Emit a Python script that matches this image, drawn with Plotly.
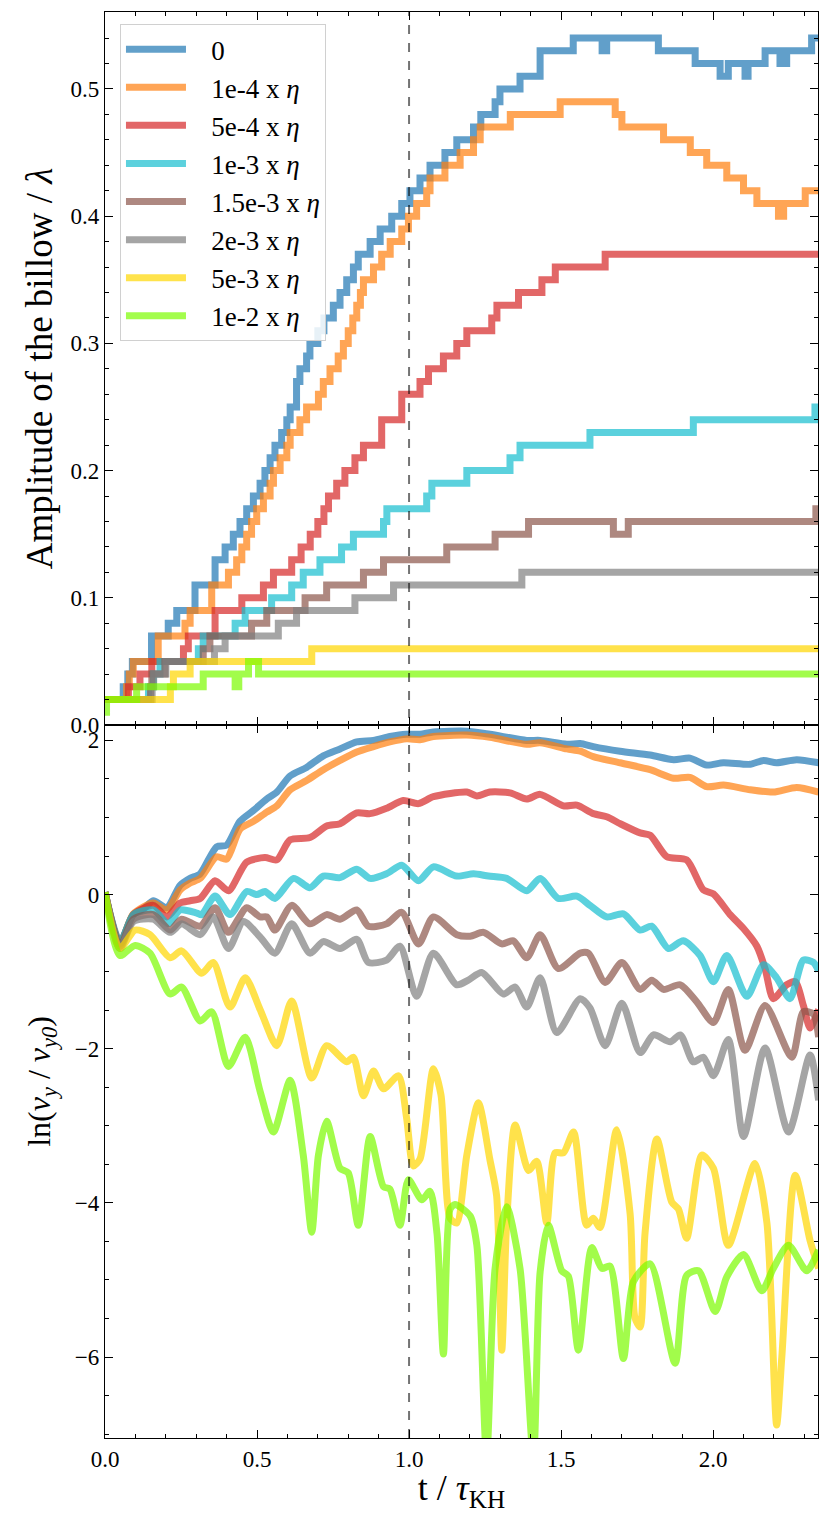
import plotly.graph_objects as go
from plotly.subplots import make_subplots

# ---------------- data: top panel (amplitude, step data) ----------------
labels = ["0", "1e-4 x <i>η</i>", "5e-4 x <i>η</i>", "1e-3 x <i>η</i>",
          "1.5e-3 x <i>η</i>", "2e-3 x <i>η</i>", "5e-3 x <i>η</i>", "1e-2 x <i>η</i>"]
colors = ["#1f77b4", "#ff7f0e", "#d62728", "#17becf",
          "#8c564b", "#7f7f7f", "#ffd700", "#7cfc00"]

amp_t_0 = [0, 0.06, 0.075, 0.09, 0.153, 0.208, 0.236, 0.296, 0.362, 0.395, 0.422, 0.444, 0.466, 0.488, 0.51,
           0.526, 0.543, 0.559, 0.581, 0.598, 0.609, 0.63, 0.641, 0.663, 0.674, 0.70, 0.72, 0.751, 0.773, 0.795,
           0.817, 0.833, 0.872, 0.905, 0.943, 0.976, 1.003, 1.036, 1.069, 1.118, 1.157, 1.212, 1.236, 1.283, 1.299,
           1.365, 1.431, 1.54, 1.635, 1.65, 1.82, 1.941, 2.023, 2.05, 2.105, 2.115, 2.171, 2.22, 2.242, 2.324, 2.345]
amp_v_0 = [0.02, 0.03, 0.04, 0.05, 0.07, 0.08, 0.09, 0.11, 0.13, 0.14, 0.15, 0.16, 0.17, 0.18, 0.19,
           0.20, 0.21, 0.22, 0.23, 0.24, 0.25, 0.27, 0.28, 0.29, 0.30, 0.31, 0.32, 0.33, 0.34, 0.35,
           0.36, 0.37, 0.38, 0.39, 0.40, 0.41, 0.42, 0.43, 0.44, 0.45, 0.46, 0.47, 0.48, 0.49, 0.50,
           0.51, 0.53, 0.54, 0.53, 0.54, 0.53, 0.52, 0.51, 0.52, 0.51, 0.52, 0.53, 0.52, 0.53, 0.54, 0.54]

amp_t_1 = [0, 0.071, 0.08, 0.093, 0.175, 0.263, 0.28, 0.351, 0.406, 0.433, 0.45, 0.466, 0.482, 0.499, 0.521,
           0.543, 0.554, 0.576, 0.598, 0.609, 0.641, 0.663, 0.702, 0.718, 0.74, 0.767, 0.784, 0.80, 0.815, 0.828,
           0.84, 0.85, 0.883, 0.91, 0.938, 0.976, 0.998, 1.025, 1.058, 1.069, 1.118, 1.168, 1.212, 1.234, 1.333,
           1.497, 1.678, 1.70, 1.837, 1.925, 1.979, 2.045, 2.10, 2.144, 2.215, 2.232, 2.303, 2.345]
amp_v_1 = [0.02, 0.03, 0.04, 0.05, 0.07, 0.08, 0.09, 0.11, 0.12, 0.13, 0.14, 0.15, 0.16, 0.17, 0.18,
           0.19, 0.20, 0.21, 0.22, 0.23, 0.24, 0.25, 0.26, 0.27, 0.28, 0.29, 0.30, 0.31, 0.32, 0.33,
           0.34, 0.35, 0.36, 0.37, 0.38, 0.39, 0.40, 0.41, 0.42, 0.43, 0.44, 0.45, 0.46, 0.47, 0.48,
           0.49, 0.48, 0.47, 0.46, 0.45, 0.44, 0.43, 0.42, 0.41, 0.40, 0.41, 0.42, 0.42]

amp_t_2 = [0, 0.077, 0.115, 0.154, 0.258, 0.274, 0.362, 0.45, 0.521, 0.554, 0.614, 0.645, 0.675, 0.70, 0.72,
           0.735, 0.762, 0.789, 0.822, 0.85, 0.91, 0.976, 1.036, 1.064, 1.113, 1.157, 1.19, 1.272, 1.289, 1.36,
           1.437, 1.481, 1.645, 2.345]
amp_v_2 = [0.02, 0.03, 0.04, 0.05, 0.06, 0.07, 0.09, 0.10, 0.11, 0.12, 0.13, 0.14, 0.15, 0.16, 0.17,
           0.18, 0.19, 0.20, 0.21, 0.22, 0.24, 0.26, 0.27, 0.28, 0.29, 0.30, 0.31, 0.32, 0.33, 0.34,
           0.35, 0.36, 0.37, 0.37]

amp_t_3 = [0, 0.143, 0.159, 0.181, 0.307, 0.323, 0.428, 0.461, 0.548, 0.614, 0.652, 0.707, 0.778, 0.817, 0.916,
           0.927, 1.058, 1.075, 1.19, 1.332, 1.365, 1.595, 1.935, 2.335, 2.345]
amp_v_3 = [0.02, 0.03, 0.04, 0.05, 0.06, 0.07, 0.08, 0.09, 0.10, 0.11, 0.12, 0.13, 0.14, 0.15, 0.16,
           0.17, 0.18, 0.19, 0.20, 0.21, 0.22, 0.23, 0.24, 0.25, 0.25]

amp_t_4 = [0, 0.15, 0.154, 0.197, 0.323, 0.345, 0.482, 0.532, 0.658, 0.729, 0.85, 0.916, 1.124, 1.283, 1.393,
           1.672, 1.721, 2.338, 2.345]
amp_v_4 = [0.02, 0.03, 0.04, 0.05, 0.06, 0.07, 0.08, 0.09, 0.10, 0.11, 0.12, 0.13, 0.14, 0.15, 0.16,
           0.15, 0.16, 0.17, 0.17]

amp_t_5 = [0, 0.155, 0.16, 0.2, 0.36, 0.395, 0.57, 0.63, 0.822, 0.949, 1.371, 2.345]
amp_v_5 = [0.02, 0.03, 0.04, 0.05, 0.06, 0.07, 0.08, 0.09, 0.10, 0.11, 0.12, 0.12]

amp_t_6 = [0, 0.215, 0.225, 0.28, 0.68, 2.345]
amp_v_6 = [0.02, 0.03, 0.04, 0.05, 0.06, 0.06]

amp_t_7 = [0, 0.005, 0.104, 0.323, 0.428, 0.44, 0.472, 0.505, 2.345]
amp_v_7 = [0.01, 0.02, 0.03, 0.04, 0.03, 0.04, 0.05, 0.04, 0.04]

# ---------------- data: bottom panel ln(vy/vy0) ----------------
ln_t_0 = [0, 0.049, 0.093, 0.126, 0.159, 0.203, 0.247, 0.28, 0.313, 0.367, 0.40, 0.444, 0.488, 0.532, 0.565,
          0.609, 0.663, 0.718, 0.773, 0.828, 0.883, 0.937, 0.992, 1.036, 1.08, 1.19, 1.266, 1.387, 1.431, 1.519,
          1.563, 1.606, 1.694, 1.793, 1.87, 1.924, 1.979, 2.034, 2.122, 2.166, 2.209, 2.275, 2.347]
ln_v_0 = [0.03, -0.61, -0.26, -0.19, -0.08, -0.17, 0.12, 0.21, 0.27, 0.62, 0.64, 0.95, 1.09, 1.24, 1.33,
          1.54, 1.65, 1.80, 1.89, 1.98, 2.0, 2.05, 2.08, 2.08, 2.11, 2.12, 2.08, 2.0, 2.0, 1.95,
          1.96, 1.92, 1.86, 1.81, 1.75, 1.77, 1.68, 1.71, 1.69, 1.74, 1.71, 1.75, 1.71]

ln_t_1 = [0, 0.049, 0.093, 0.159, 0.203, 0.247, 0.28, 0.313, 0.367, 0.40, 0.444, 0.488, 0.532, 0.565, 0.609,
          0.663, 0.718, 0.773, 0.828, 0.883, 0.937, 0.992, 1.036, 1.08, 1.19, 1.266, 1.387, 1.431, 1.519, 1.563,
          1.606, 1.694, 1.793, 1.87, 1.924, 1.979, 2.034, 2.122, 2.198, 2.275, 2.347]
ln_v_1 = [0.03, -0.64, -0.25, -0.11, -0.20, 0.06, 0.15, 0.21, 0.49, 0.46, 0.85, 0.95, 1.07, 1.15, 1.36,
          1.48, 1.62, 1.74, 1.85, 1.92, 1.98, 2.02, 2.01, 2.05, 2.07, 2.04, 1.95, 1.97, 1.89, 1.86,
          1.79, 1.71, 1.62, 1.51, 1.52, 1.40, 1.42, 1.36, 1.33, 1.39, 1.33]

ln_t_2 = [0, 0.049, 0.093, 0.159, 0.203, 0.247, 0.28, 0.313, 0.362, 0.406, 0.466, 0.526, 0.565, 0.609, 0.674,
          0.729, 0.773, 0.828, 0.872, 0.926, 0.981, 1.031, 1.08, 1.19, 1.223, 1.266, 1.332, 1.387, 1.431, 1.508,
          1.552, 1.606, 1.650, 1.694, 1.760, 1.793, 1.848, 1.913, 1.968, 2.001, 2.056, 2.100, 2.144, 2.171, 2.198,
          2.242, 2.270, 2.297, 2.319, 2.347]
ln_v_2 = [0.03, -0.64, -0.26, -0.14, -0.29, -0.11, -0.08, -0.05, 0.18, 0.05, 0.42, 0.48, 0.45, 0.71, 0.74,
          0.89, 0.92, 1.06, 1.05, 1.12, 1.22, 1.18, 1.27, 1.33, 1.28, 1.33, 1.32, 1.24, 1.30, 1.15,
          1.16, 1.05, 1.01, 0.92, 0.80, 0.77, 0.49, 0.45, 0.06, 0.01, -0.26, -0.44, -0.67, -0.96, -1.35,
          -1.17, -1.13, -1.44, -1.73, -1.49]

ln_t_3 = [0, 0.049, 0.093, 0.159, 0.208, 0.247, 0.302, 0.318, 0.362, 0.411, 0.466, 0.499, 0.526, 0.559, 0.620,
          0.674, 0.718, 0.773, 0.828, 0.872, 0.926, 0.976, 1.031, 1.08, 1.157, 1.212, 1.261, 1.321, 1.387, 1.431,
          1.491, 1.552, 1.595, 1.650, 1.705, 1.760, 1.798, 1.853, 1.902, 1.957, 2.001, 2.045, 2.111, 2.166, 2.209,
          2.253, 2.297, 2.330, 2.347]
ln_v_3 = [0.03, -0.64, -0.26, -0.20, -0.38, -0.20, -0.24, -0.26, -0.02, -0.26, 0.04, 0.0, 0.04, -0.05, 0.21,
          0.09, 0.24, 0.22, 0.33, 0.21, 0.27, 0.38, 0.18, 0.36, 0.24, 0.27, 0.24, 0.21, 0.05, 0.21,
          -0.05, -0.02, -0.14, -0.29, -0.25, -0.46, -0.41, -0.70, -0.60, -0.79, -1.13, -0.79, -1.32, -0.91, -1.08,
          -1.35, -0.85, -0.88, -0.99]

ln_t_4 = [0, 0.049, 0.093, 0.159, 0.214, 0.252, 0.313, 0.362, 0.406, 0.466, 0.510, 0.532, 0.559, 0.614, 0.674,
          0.729, 0.773, 0.828, 0.866, 0.926, 0.976, 1.031, 1.08, 1.157, 1.201, 1.245, 1.305, 1.343, 1.387, 1.431,
          1.491, 1.563, 1.590, 1.645, 1.700, 1.760, 1.798, 1.837, 1.892, 1.946, 2.001, 2.050, 2.105, 2.171, 2.259,
          2.297, 2.330, 2.347]
ln_v_4 = [0.03, -0.67, -0.32, -0.26, -0.46, -0.32, -0.41, -0.17, -0.49, -0.17, -0.29, -0.29, -0.46, -0.14, -0.38,
          -0.26, -0.32, -0.20, -0.41, -0.38, -0.23, -0.64, -0.29, -0.52, -0.54, -0.49, -0.64, -0.60, -0.82, -0.52,
          -0.96, -0.76, -0.76, -1.14, -0.88, -1.23, -1.11, -1.23, -1.17, -1.39, -1.66, -1.23, -2.02, -1.44, -2.11,
          -1.52, -1.55, -1.85]

ln_t_5 = [0, 0.049, 0.093, 0.159, 0.214, 0.252, 0.313, 0.356, 0.406, 0.455, 0.510, 0.559, 0.614, 0.674, 0.718,
          0.773, 0.828, 0.866, 0.926, 0.970, 1.025, 1.08, 1.157, 1.195, 1.239, 1.310, 1.349, 1.387, 1.431, 1.486,
          1.563, 1.595, 1.645, 1.700, 1.760, 1.804, 1.859, 1.892, 1.935, 1.968, 2.001, 2.050, 2.100, 2.171, 2.248,
          2.319, 2.347]
ln_v_5 = [0.03, -0.70, -0.35, -0.32, -0.49, -0.38, -0.52, -0.29, -0.70, -0.35, -0.55, -0.76, -0.38, -0.76, -0.61,
          -0.70, -0.58, -0.88, -0.85, -0.67, -1.32, -0.76, -1.17, -1.11, -1.01, -1.29, -1.20, -1.46, -1.08, -1.79,
          -1.35, -1.47, -1.96, -1.41, -2.05, -1.82, -1.91, -1.82, -2.17, -2.11, -2.35, -1.88, -3.14, -1.99, -3.08,
          -2.08, -2.67]

ln_t_6 = [0, 0.049, 0.099, 0.148, 0.214, 0.252, 0.318, 0.356, 0.411, 0.461, 0.510, 0.565, 0.614, 0.680, 0.729,
          0.795, 0.817, 0.850, 0.883, 0.916, 0.965, 0.992, 1.014, 1.036, 1.080, 1.105, 1.135, 1.157, 1.190, 1.228,
          1.266, 1.288, 1.305, 1.321, 1.349, 1.393, 1.420, 1.453, 1.480, 1.508, 1.541, 1.584, 1.606, 1.628, 1.683,
          1.727, 1.743, 1.760, 1.776, 1.815, 1.864, 1.886, 1.913, 1.963, 2.001, 2.050, 2.138, 2.177, 2.209, 2.226,
          2.270, 2.319, 2.347]
ln_v_6 = [0.03, -0.70, -0.46, -0.52, -0.82, -0.73, -1.02, -0.88, -1.46, -1.08, -1.49, -1.96, -1.38, -2.38, -1.96,
          -2.17, -2.11, -2.61, -2.29, -2.52, -2.35, -2.90, -3.52, -3.43, -2.26, -2.60, -4.20, -4.26, -3.38, -2.70,
          -3.44, -3.91, -5.91, -4.26, -2.99, -3.58, -3.46, -4.26, -3.35, -3.35, -3.08, -4.29, -4.20, -4.32, -3.05,
          -4.14, -5.49, -5.61, -4.40, -3.17, -3.99, -4.08, -4.46, -3.38, -3.55, -4.55, -3.49, -4.26, -6.88, -6.00,
          -3.64, -4.49, -4.85]

ln_t_7 = [0, 0.049, 0.099, 0.148, 0.214, 0.252, 0.313, 0.351, 0.406, 0.461, 0.510, 0.554, 0.609, 0.652, 0.680,
          0.702, 0.729, 0.773, 0.800, 0.833, 0.872, 0.916, 0.937, 0.970, 0.998, 1.042, 1.069, 1.092, 1.113, 1.135,
          1.151, 1.201, 1.223, 1.255, 1.283, 1.321, 1.365, 1.409, 1.431, 1.458, 1.502, 1.524, 1.557, 1.601, 1.634,
          1.661, 1.705, 1.738, 1.793, 1.875, 1.913, 1.952, 2.007, 2.045, 2.100, 2.160, 2.198, 2.248, 2.308, 2.347]
ln_v_7 = [0.03, -0.79, -0.66, -0.76, -1.29, -1.20, -1.64, -1.52, -2.23, -1.85, -2.55, -3.08, -2.41, -3.38, -4.38,
          -3.38, -2.94, -3.55, -3.61, -4.29, -3.14, -3.79, -3.82, -4.29, -3.70, -3.96, -3.85, -4.40, -5.96, -4.08,
          -4.02, -4.17, -4.55, -7.30, -4.85, -4.05, -4.85, -7.30, -4.90, -4.29, -4.88, -4.95, -5.91, -4.58, -4.85,
          -4.82, -6.02, -5.02, -4.79, -6.08, -4.94, -4.88, -5.41, -4.96, -4.67, -5.14, -4.85, -4.55, -4.88, -4.61]

amp_t = [amp_t_0, amp_t_1, amp_t_2, amp_t_3, amp_t_4, amp_t_5, amp_t_6, amp_t_7]
amp_v = [amp_v_0, amp_v_1, amp_v_2, amp_v_3, amp_v_4, amp_v_5, amp_v_6, amp_v_7]
ln_t = [ln_t_0, ln_t_1, ln_t_2, ln_t_3, ln_t_4, ln_t_5, ln_t_6, ln_t_7]
ln_v = [ln_v_0, ln_v_1, ln_v_2, ln_v_3, ln_v_4, ln_v_5, ln_v_6, ln_v_7]

x_ticks = [0.0, 0.5, 1.0, 1.5, 2.0]
top_ticks = [0.0, 0.1, 0.2, 0.3, 0.4, 0.5]
bot_ticks = [-6, -4, -2, 0, 2]

FONT = "Liberation Serif"
LW = 7
OPA = 0.7
PAD = "\u00a0\u00a0\u00a0"  # gap between legend line sample and its label

fig = make_subplots(rows=2, cols=1, shared_xaxes=True, vertical_spacing=0)

for i in range(8):
    fig.add_trace(go.Scatter(x=amp_t[i], y=amp_v[i], mode="lines", name=PAD + labels[i],
                             line=dict(color=colors[i], width=LW, shape="hv"),
                             opacity=OPA, legendgroup=f"g{i}", showlegend=True), row=1, col=1)
for i in range(8):
    fig.add_trace(go.Scatter(x=ln_t[i], y=ln_v[i], mode="lines", name=labels[i],
                             line=dict(color=colors[i], width=LW, shape="spline", smoothing=0.7),
                             opacity=OPA, legendgroup=f"g{i}", showlegend=False), row=2, col=1)

axis_common = dict(showline=True, linecolor="black", linewidth=1.3, mirror="allticks",
                   ticks="inside", ticklen=8, tickwidth=1.3, tickcolor="black",
                   showgrid=False, zeroline=False,
                   tickfont=dict(family=FONT, size=23, color="black"))

fig.update_xaxes(range=[0, 2.345], tickvals=x_ticks, tickformat=".1f",
                 minor=dict(ticks="inside", ticklen=4, dtick=0.1, tick0=0, tickcolor="black", tickwidth=1),
                 **axis_common)
fig.update_xaxes(showticklabels=False, row=1, col=1)
fig.update_xaxes(title=dict(text="t / <i>τ</i><sub>KH</sub>", font=dict(family=FONT, size=36, color="black"),
                            standoff=12), row=2, col=1)

fig.update_yaxes(range=[0, 0.5605], tickvals=top_ticks, tickformat=".1f",
                 minor=dict(ticks="inside", ticklen=4, dtick=0.02, tick0=0, tickcolor="black", tickwidth=1),
                 title=dict(text="Amplitude of the billow / <i>λ</i>",
                            font=dict(family=FONT, size=37, color="black"), standoff=6),
                 row=1, col=1, **axis_common)
fig.update_yaxes(range=[-7.05, 2.2], tickvals=bot_ticks,
                 minor=dict(ticks="inside", ticklen=4, dtick=0.5, tick0=0, tickcolor="black", tickwidth=1),
                 title=dict(text="ln(<i>v<sub>y</sub></i> / <i>v<sub>y0</sub></i>)",
                            font=dict(family=FONT, size=32, color="black"), standoff=14),
                 row=2, col=1, **axis_common)

fig.add_shape(type="line", x0=1.0, x1=1.0, y0=0, y1=1, xref="x", yref="paper",
              line=dict(color="rgba(0,0,0,0.55)", width=2, dash="dash"), layer="above")

# page body adds an 8px offset; the figure is sized so the page is 830x1513 overall
fig.update_layout(
    width=822, height=1505,
    margin=dict(l=97, r=12, t=4, b=75),
    plot_bgcolor="white", paper_bgcolor="white",
    font=dict(family=FONT, color="black"),
    legend=dict(x=0.021, y=0.9915, xanchor="left", yanchor="top",
                bgcolor="rgba(255,255,255,0.85)", bordercolor="#d0d0d0", borderwidth=1,
                font=dict(family=FONT, size=27, color="black"),
                tracegroupgap=0, itemwidth=60),
)

fig.write_html("out.html")
